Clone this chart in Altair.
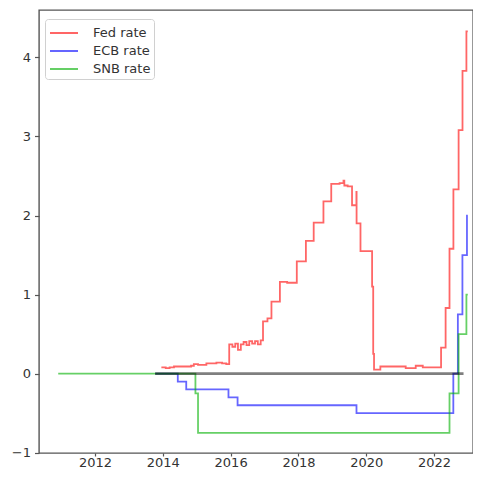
import altair as alt
import pandas as pd

# ---- data ----
fed_dates = [
    "2013-12-16", "2014-02-01", "2014-03-15", "2014-05-01", "2014-07-01", "2014-09-01",
    "2014-11-01", "2014-12-01", "2015-01-15", "2015-03-01", "2015-04-15", "2015-06-01",
    "2015-08-01", "2015-10-01", "2015-11-15", "2015-12-17", "2016-01-20", "2016-02-20",
    "2016-03-20", "2016-04-20", "2016-05-20", "2016-06-20", "2016-07-20", "2016-08-20",
    "2016-09-20", "2016-10-20", "2016-11-20", "2016-12-15", "2017-02-01", "2017-03-16",
    "2017-06-15", "2017-09-01", "2017-12-14", "2018-03-22", "2018-06-14", "2018-09-27",
    "2018-12-20", "2019-02-15", "2019-03-20", "2019-05-01", "2019-05-10", "2019-06-15",
    "2019-08-01", "2019-09-17", "2019-09-19", "2019-10-31", "2020-03-04", "2020-03-16",
    "2020-03-25", "2020-05-01", "2020-06-01", "2020-10-01", "2021-01-01", "2021-03-01",
    "2021-06-17", "2021-09-01", "2022-01-01", "2022-03-17", "2022-05-05", "2022-06-16",
    "2022-07-28", "2022-09-22", "2022-11-03", "2022-12-15", "2022-12-30",
]
fed_vals = [
    0.08, 0.07, 0.08, 0.09, 0.09, 0.09,
    0.10, 0.12, 0.11, 0.11, 0.13, 0.13,
    0.14, 0.13, 0.12, 0.37, 0.34, 0.38,
    0.30, 0.37, 0.40, 0.36, 0.41, 0.38,
    0.41, 0.37, 0.42, 0.66, 0.70, 0.91,
    1.16, 1.15, 1.42, 1.68, 1.91, 2.18,
    2.40, 2.40, 2.41, 2.44, 2.38, 2.37,
    2.13, 2.30, 1.90, 1.55, 1.10, 0.25,
    0.05, 0.05, 0.09, 0.09, 0.09, 0.07,
    0.10, 0.08, 0.08, 0.33, 0.83, 1.58,
    2.33, 3.08, 3.83, 4.33, 4.33,
]

ecb_dates = [
    "2013-10-10", "2014-06-11", "2014-09-10", "2015-12-09", "2016-03-16",
    "2019-09-18", "2022-07-27", "2022-09-14", "2022-11-02", "2022-12-21", "2022-12-30",
]
ecb_vals = [0.00, -0.10, -0.20, -0.30, -0.40, -0.50, 0.00, 0.75, 1.50, 2.00, 2.00]

snb_dates = [
    "2010-12-01", "2014-12-18", "2015-01-15", "2022-06-16", "2022-09-22",
    "2022-12-15", "2022-12-30",
]
snb_vals = [0.00, -0.25, -0.75, -0.25, 0.50, 1.00, 1.00]

zero_dates = ["2013-10-10", "2022-11-14"]
zero_vals = [0.0, 0.0]

series_names = ["Fed rate", "ECB rate", "SNB rate"]
series_colors = ["#ff0000", "#0000ff", "#00b000"]
year_ticks = [2012, 2014, 2016, 2018, 2020, 2022]
y_ticks = [-1, 0, 1, 2, 3, 4]

# ---- tables ----
frames = []
for name, d, v in [
    (series_names[0], fed_dates, fed_vals),
    (series_names[1], ecb_dates, ecb_vals),
    (series_names[2], snb_dates, snb_vals),
]:
    frames.append(pd.DataFrame({"date": d, "rate": v, "series": name}))
rates = pd.concat(frames, ignore_index=True)
zero_df = pd.DataFrame({"date": zero_dates, "rate": zero_vals})

font = "DejaVu Sans"
text_color = "#333333"

x_scale = alt.Scale(
    type="utc",
    domain=[
        alt.DateTime(year=2010, month=5, date=8, utc=True),
        alt.DateTime(year=2023, month=2, date=24, utc=True),
    ],
)
x_axis = alt.Axis(
    values=[alt.DateTime(year=y, month=1, date=1, utc=True) for y in year_ticks],
    format="%Y",
    title=None,
    grid=False,
)
y_scale = alt.Scale(domain=[-1.004, 4.6], nice=False, zero=False)
y_axis = alt.Axis(values=y_ticks, title=None, grid=False)

lines = (
    alt.Chart(rates)
    .mark_line(interpolate="step-after", strokeWidth=1.8, opacity=0.6)
    .encode(
        x=alt.X("date:T", scale=x_scale, axis=x_axis),
        y=alt.Y("rate:Q", scale=y_scale, axis=y_axis),
        color=alt.Color(
            "series:N",
            scale=alt.Scale(domain=series_names, range=series_colors),
            sort=series_names,
            legend=alt.Legend(title=None),
        ),
    )
)

zero_line = (
    alt.Chart(zero_df)
    .mark_line(color="black", opacity=0.5, strokeWidth=2.6)
    .encode(
        x=alt.X("date:T", scale=x_scale, axis=x_axis),
        y=alt.Y("rate:Q", scale=y_scale, axis=y_axis),
    )
)

chart = (
    alt.layer(lines, zero_line)
    .properties(
        width=434,
        height=443,
        autosize=alt.AutoSizeParams(type="none"),
        padding={"left": 31, "top": 2, "right": 0, "bottom": 19},
    )
    .configure_view(stroke="#555555", strokeWidth=1.4)
    .configure_axis(
        domain=False,
        ticks=True,
        tickColor="#555555",
        tickWidth=1.2,
        tickSize=3,
        labelFont=font,
        labelFontSize=13,
        labelColor=text_color,
        labelPadding=0,
    )
    .configure_axisY(labelPadding=4, tickSize=4.5)
    .configure_legend(
        orient="none",
        legendX=6,
        legendY=9,
        symbolType="M-1.4,0H1.4",
        symbolSize=400,
        symbolStrokeWidth=2,
        symbolOpacity=0.6,
        symbolOffset=5,
        labelOffset=18,
        labelFont=font,
        labelFontSize=13,
        labelColor=text_color,
        fillColor="white",
        strokeColor="#d0d0d0",
        cornerRadius=3,
        padding=3,
        rowPadding=0,
    )
)

chart.save("out.html", embed_options={"renderer": "svg", "actions": False})
